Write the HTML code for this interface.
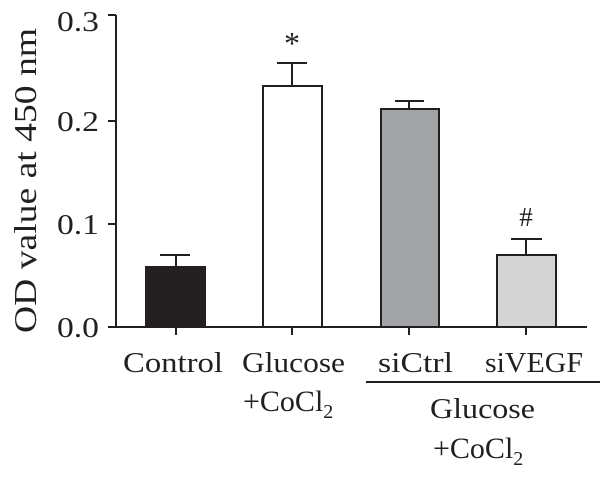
<!DOCTYPE html>
<html><head><meta charset="utf-8"><style>body{margin:0;background:#fff}</style></head><body>
<svg width="600" height="479" xmlns="http://www.w3.org/2000/svg" font-family="Liberation Serif, serif" font-size="29" fill="#231f20">
<g stroke="#231f20" stroke-width="2" fill="none">
<line x1="116" y1="15" x2="116" y2="327"/>
<line x1="108" y1="327" x2="587" y2="327"/>
<line x1="108" y1="15" x2="116" y2="15"/>
<line x1="108" y1="121" x2="116" y2="121"/>
<line x1="108" y1="224" x2="116" y2="224"/>
<line x1="176" y1="327" x2="176" y2="335"/>
<line x1="292" y1="327" x2="292" y2="335"/>
<line x1="409" y1="327" x2="409" y2="335"/>
<line x1="526" y1="327" x2="526" y2="335"/>
<line x1="176" y1="267" x2="176" y2="255"/><line x1="160" y1="255" x2="190" y2="255"/>
<line x1="292" y1="86" x2="292" y2="63"/><line x1="277" y1="63" x2="307" y2="63"/>
<line x1="409" y1="109" x2="409" y2="101"/><line x1="395" y1="101" x2="424" y2="101"/>
<line x1="526" y1="255" x2="526" y2="239"/><line x1="511" y1="239" x2="542" y2="239"/>
<rect x="146" y="267" width="59" height="60" fill="#231f20"/>
<rect x="263" y="86" width="59" height="241" fill="#fff"/>
<rect x="381" y="109" width="58" height="218" fill="#a2a3a6"/>
<rect x="497" y="255" width="59" height="72" fill="#d4d4d4"/>
<line x1="366" y1="382" x2="600" y2="382"/>
</g>
<g font-size="28">
<text transform="translate(57,31) scale(1.2,1)">0.3</text>
<text transform="translate(57,131) scale(1.2,1)">0.2</text>
<text transform="translate(57,234) scale(1.2,1)">0.1</text>
<text transform="translate(57,337) scale(1.2,1)">0.0</text>
</g>
<text transform="translate(36,333) rotate(-90)" font-size="32" textLength="305" lengthAdjust="spacingAndGlyphs">OD value at 450 nm</text>
<text x="292" y="54" text-anchor="middle" font-size="32">*</text>
<text x="526" y="226" text-anchor="middle" font-size="27">#</text>
<text x="123" y="372" textLength="100" lengthAdjust="spacingAndGlyphs">Control</text>
<text x="242" y="372" textLength="103" lengthAdjust="spacingAndGlyphs">Glucose</text>
<text x="243" y="411" font-size="30">+CoCl<tspan font-size="20" dy="7">2</tspan></text>
<text x="378" y="372" textLength="75" lengthAdjust="spacingAndGlyphs">siCtrl</text>
<text x="485" y="372" textLength="98" lengthAdjust="spacingAndGlyphs">siVEGF</text>
<text x="430" y="418" textLength="105" lengthAdjust="spacingAndGlyphs">Glucose</text>
<text x="433" y="458" font-size="30">+CoCl<tspan font-size="20" dy="7">2</tspan></text>
</svg>
</body></html>
